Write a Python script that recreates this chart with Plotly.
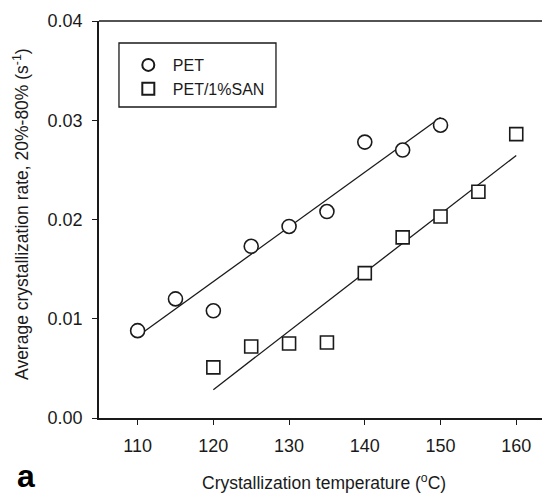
import numpy as np
import plotly.graph_objects as go

# Crystallization temperature (°C) and average crystallization rate 20%-80% (1/s)
temp_pet = [110, 115, 120, 125, 130, 135, 140, 145, 150]
rate_pet = [0.0088, 0.0120, 0.0108, 0.0173, 0.0193, 0.0208, 0.0278, 0.0270, 0.0295]

temp_san = [120, 125, 130, 135, 140, 145, 150, 155, 160]
rate_san = [0.0051, 0.0072, 0.0075, 0.0076, 0.0146, 0.0182, 0.0203, 0.0228, 0.0286]

x_ticks = [110, 120, 130, 140, 150, 160]
y_ticks = [0.00, 0.01, 0.02, 0.03, 0.04]

FONT = "Liberation Sans, Arial, sans-serif"
INK = "#1a1a1a"


def linear_fit(x, y):
    slope, intercept = np.polyfit(x, y, 1)
    xs = np.array([min(x), max(x)], dtype=float)
    return xs, slope * xs + intercept


fig = go.Figure()

# regression lines (drawn under the markers)
for xs, ys in (linear_fit(temp_pet, rate_pet), linear_fit(temp_san, rate_san)):
    fig.add_trace(go.Scatter(x=xs, y=ys, mode="lines",
                             line=dict(color=INK, width=1.3),
                             showlegend=False, hoverinfo="skip"))

fig.add_trace(go.Scatter(
    x=temp_pet, y=rate_pet, mode="markers", name="PET",
    marker=dict(symbol="circle", size=14, color="white",
                line=dict(color=INK, width=1.6))))
fig.add_trace(go.Scatter(
    x=temp_san, y=rate_san, mode="markers", name="PET/1%SAN",
    marker=dict(symbol="square", size=13, color="white",
                line=dict(color=INK, width=1.6))))

axis_common = dict(showline=True, linecolor=INK, linewidth=1.5,
                   ticks="outside", ticklen=5, tickwidth=1.3, tickcolor=INK,
                   showgrid=False, zeroline=False, ticklabelstandoff=6,
                   tickfont=dict(family=FONT, size=18, color=INK))

fig.update_xaxes(range=[104.9, 163.4], tickvals=x_ticks, **axis_common)
fig.update_yaxes(range=[0, 0.04], tickvals=y_ticks, tickformat=".2f", **axis_common)

fig.update_layout(
    width=542, height=493,
    margin=dict(l=99, r=0, t=21, b=75),
    paper_bgcolor="white", plot_bgcolor="white",
    font=dict(family=FONT, color=INK),
    legend=dict(x=0.056, y=0.932, xanchor="left", yanchor="top",
                bgcolor="rgba(0,0,0,0)", borderwidth=0,
                font=dict(family=FONT, size=16, color=INK),
                itemwidth=39, tracegroupgap=0, itemsizing="constant"),
    shapes=[
        # top frame line
        dict(type="line", xref="paper", yref="paper", x0=0, x1=1, y0=1, y1=1,
             line=dict(color=INK, width=1.5)),
        # legend frame
        dict(type="rect", xref="paper", yref="paper", x0=0.0451, x1=0.3995,
             y0=0.7834, y1=0.9446, line=dict(color=INK, width=1.3),
             fillcolor="rgba(0,0,0,0)"),
    ],
    annotations=[
        dict(text="Crystallization temperature (<sup>o</sup>C)", xref="paper", yref="paper",
             x=0.507, y=-0.161, xanchor="center", yanchor="middle", showarrow=False,
             font=dict(family=FONT, size=17.5, color=INK)),
        dict(text="Average crystallization rate, 20%-80% (s<sup>-1</sup>)", xref="paper", yref="paper",
             x=-0.176, y=0.514, xanchor="center", yanchor="middle", textangle=-90,
             showarrow=False, font=dict(family=FONT, size=17.5, color=INK)),
        dict(text="<b>a</b>", xref="paper", yref="paper", x=-0.165, y=-0.145,
             xanchor="center", yanchor="middle", showarrow=False,
             font=dict(family=FONT, size=32, color="black")),
    ],
)

fig.write_html("out.html")
